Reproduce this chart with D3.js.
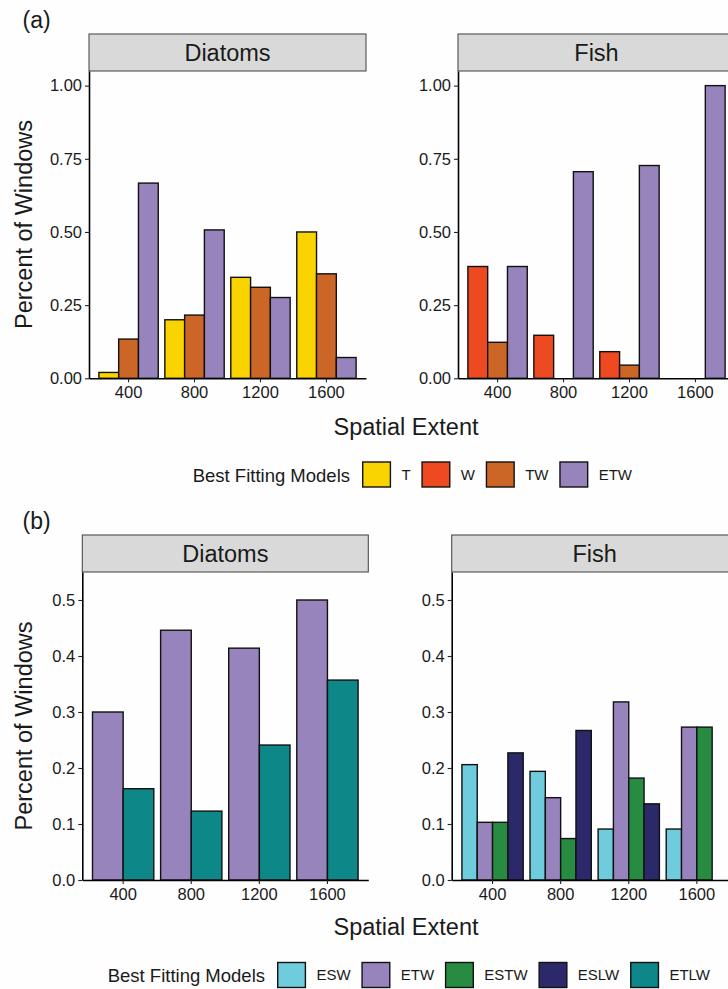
<!DOCTYPE html>
<html>
<head>
<meta charset="utf-8">
<script src="https://cdn.jsdelivr.net/npm/d3@7"></script>
<style>
  html, body { margin: 0; padding: 0; background: #fefefe; }
  svg { display: block; font-family: "Liberation Sans", Arial, Helvetica, sans-serif; }
</style>
</head>
<body>
<svg id="chart" width="728" height="989"></svg>
<script>
// Spatial extents (x categories)
const extents = ["400", "800", "1200", "1600"];

// Panel (a): share of windows per best-fitting model
const diatomsA_T   = [0.020, 0.200, 0.345, 0.500];
const diatomsA_TW  = [0.134, 0.216, 0.311, 0.357];
const diatomsA_ETW = [0.667, 0.507, 0.276, 0.071];
const fishA_W   = [0.382, 0.147, 0.091, 0.000];
const fishA_TW  = [0.123, 0.000, 0.045, 0.000];
const fishA_ETW = [0.382, 0.706, 0.727, 1.000];

// Panel (b)
const diatomsB_ETW  = [0.300, 0.446, 0.414, 0.500];
const diatomsB_ETLW = [0.163, 0.123, 0.241, 0.357];
const fishB_ESW  = [0.206, 0.194, 0.091, 0.091];
const fishB_ETW  = [0.103, 0.147, 0.318, 0.273];
const fishB_ESTW = [0.103, 0.074, 0.182, 0.273];
const fishB_ESLW = [0.227, 0.267, 0.136, 0.000];

// Y tick values
const ticksA = [0, 0.25, 0.5, 0.75, 1.0];
const ticksB = [0, 0.1, 0.2, 0.3, 0.4, 0.5];

// Legend entries
const modelsA = ["T", "W", "TW", "ETW"];
const modelsB = ["ESW", "ETW", "ESTW", "ESLW", "ETLW"];

const modelColor = {
  T: "#FAD400", W: "#EE4A22", TW: "#CC6627", ETW: "#9884BD",
  ESW: "#6FCCDC", ESTW: "#278C42", ESLW: "#2B2969", ETLW: "#0E8788"
};

const svg = d3.select("#chart");
const textCol = "#1a1a1a";

function drawPanel(opt) {
  const g = svg.append("g");
  // facet strip
  g.append("rect")
    .attr("x", opt.x0).attr("y", opt.stripTop)
    .attr("width", opt.x1 - opt.x0).attr("height", opt.plotTop - opt.stripTop)
    .attr("fill", "#d9d9d9").attr("stroke", "#4d4d4d").attr("stroke-width", 1.1);
  g.append("text")
    .attr("x", (opt.x0 + opt.x1) / 2).attr("y", opt.stripTop + (opt.plotTop - opt.stripTop) / 2 + 8.3)
    .attr("text-anchor", "middle").attr("font-size", 23.5).attr("fill", textCol)
    .text(opt.title);

  const x = d3.scaleBand().domain(extents).range([opt.x0, opt.x1])
    .paddingInner(0.1).paddingOuter(0.15);
  const keys = opt.series.map(s => s.key);
  const xi = d3.scaleBand().domain(keys).range([0, x.bandwidth()]);
  const y = d3.scaleLinear().domain([0, opt.yMax]).range([opt.axisY, opt.plotTop]);

  const rows = [];
  opt.series.forEach(s => s.values.forEach((v, i) => {
    if (v > 0) rows.push({ ext: extents[i], key: s.key, v });
  }));
  g.selectAll("rect.bar").data(rows).join("rect")
    .attr("class", "bar")
    .attr("x", d => x(d.ext) + xi(d.key))
    .attr("width", xi.bandwidth())
    .attr("y", d => y(d.v))
    .attr("height", d => y(0) - y(d.v))
    .attr("fill", d => modelColor[d.key])
    .attr("stroke", "#111").attr("stroke-width", 1.4);

  const yAxis = g.append("g").attr("transform", `translate(${opt.x0},0)`)
    .call(d3.axisLeft(y).tickValues(opt.ticks).tickFormat(d3.format(opt.fmt))
      .tickSize(4).tickSizeOuter(0).tickPadding(3));
  const xAxis = g.append("g").attr("transform", `translate(0,${opt.axisY})`)
    .call(d3.axisBottom(x).tickSize(4).tickSizeOuter(0).tickPadding(4));
  [yAxis, xAxis].forEach(a => {
    a.select(".domain").attr("stroke", "#000").attr("stroke-width", 1.6);
    a.selectAll(".tick line").attr("stroke", "#222").attr("stroke-width", 1.1);
    a.selectAll(".tick text").attr("font-size", 16.5).attr("fill", textCol)
      .attr("font-family", "Liberation Sans, Arial, sans-serif");
  });
}

function drawLegend(models, y, titleX, firstKeyX) {
  const g = svg.append("g");
  g.append("text").attr("x", titleX).attr("y", y + 7)
    .attr("font-size", 18.5).attr("fill", textCol).text("Best Fitting Models");
  let cx = firstKeyX;
  models.forEach(m => {
    g.append("rect").attr("x", cx).attr("y", y - 12.5).attr("width", 27.7).attr("height", 25)
      .attr("fill", modelColor[m]).attr("stroke", "#111").attr("stroke-width", 1.4);
    const t = g.append("text").attr("x", cx + 27.7 + 11).attr("y", y + 5.4)
      .attr("font-size", 15).attr("fill", textCol).text(m);
    cx = cx + 27.7 + 11 + t.node().getComputedTextLength() + 11.5;
  });
}

function axisTitles(centerY, xTitleBaseline, tag, tagBaseline) {
  svg.append("text").attr("transform", `translate(31.5,${centerY}) rotate(-90)`)
    .attr("text-anchor", "middle").attr("font-size", 23.5).attr("fill", textCol)
    .text("Percent of Windows");
  svg.append("text").attr("x", 406).attr("y", xTitleBaseline)
    .attr("text-anchor", "middle").attr("font-size", 23.5).attr("fill", textCol)
    .text("Spatial Extent");
  svg.append("text").attr("x", 22.5).attr("y", tagBaseline)
    .attr("font-size", 23).attr("fill", textCol).text(tag);
}

// ---- Panel (a)
drawPanel({ title: "Diatoms", x0: 89, x1: 366, stripTop: 34, plotTop: 71, axisY: 378.3,
  yMax: 1.05, ticks: ticksA, fmt: ".2f",
  series: [{ key: "T", values: diatomsA_T }, { key: "TW", values: diatomsA_TW }, { key: "ETW", values: diatomsA_ETW }] });
drawPanel({ title: "Fish", x0: 458, x1: 735, stripTop: 34, plotTop: 71, axisY: 378.3,
  yMax: 1.05, ticks: ticksA, fmt: ".2f",
  series: [{ key: "W", values: fishA_W }, { key: "TW", values: fishA_TW }, { key: "ETW", values: fishA_ETW }] });
axisTitles(224.5, 434.5, "(a)", 27.5);
drawLegend(modelsA, 474.5, 192.7, 362.7);

// ---- Panel (b)
drawPanel({ title: "Diatoms", x0: 82.3, x1: 368.3, stripTop: 535, plotTop: 572, axisY: 880,
  yMax: 0.55, ticks: ticksB, fmt: ".1f",
  series: [{ key: "ETW", values: diatomsB_ETW }, { key: "ETLW", values: diatomsB_ETLW }] });
drawPanel({ title: "Fish", x0: 451.7, x1: 737.7, stripTop: 535, plotTop: 572, axisY: 880,
  yMax: 0.55, ticks: ticksB, fmt: ".1f",
  series: [{ key: "ESW", values: fishB_ESW }, { key: "ETW", values: fishB_ETW },
           { key: "ESTW", values: fishB_ESTW }, { key: "ESLW", values: fishB_ESLW }] });
axisTitles(726, 935, "(b)", 529);
drawLegend(modelsB, 975, 107.7, 277.7);
</script>
</body>
</html>
